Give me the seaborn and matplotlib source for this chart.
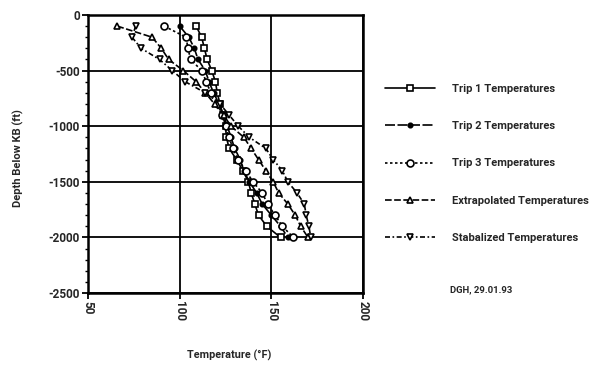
import numpy as np
import pandas as pd
import matplotlib
matplotlib.use("Agg")
import matplotlib.pyplot as plt
import seaborn as sns

# ---- data ----
depth = [-100, -200, -300, -400, -500, -600, -700, -800, -900, -1000,
         -1100, -1200, -1300, -1400, -1500, -1600, -1700, -1800, -1900, -2000]
trip1 = [109, 112, 113.5, 115, 117.5, 119.5, 120.5, 122, 123.5, 125,
         125.5, 127, 131, 134.5, 137.5, 139, 141, 143, 147.5, 155]
trip2 = [100, 105, 108, 110, 114, 116, 118.5, 121.5, 124, 126,
         128, 130, 133, 135, 138, 142, 145, 150, 155, 159]
trip3 = [91.5, 103.5, 104.5, 106, 112, 114.5, 117, 121, 123, 125,
         127, 129, 132, 136, 140, 145, 148, 152, 156, 162]
extrap = [66, 85, 90, 94, 102, 109, 114, 119, 124, 128,
          135, 139, 143, 147, 151, 154, 159, 163, 166, 170]
stab = [76, 74, 79, 89, 96, 103, 114, 122, 127, 132,
        138, 147, 151, 156, 159, 164, 168, 169, 170.5, 171.5]

series_names = ["Trip 1 Temperatures", "Trip 2 Temperatures", "Trip 3 Temperatures",
                "Extrapolated Temperatures", "Stabalized Temperatures"]
x_ticks = [50, 100, 150, 200]
y_ticks = [0, -500, -1000, -1500, -2000, -2500]
x_label = "Temperature (°F)"
y_label = "Depth Below KB (ft)"
note = "DGH, 29.01.93"

sns.set_theme(style="white")
plt.rcParams["font.family"] = ["Roboto", "DejaVu Sans"]
plt.rcParams["font.weight"] = "bold"

fig = plt.figure(figsize=(5.94, 3.75), dpi=100)
ax = fig.add_axes([88/594, 1-293/375, (363-88)/594, (293-15)/375])

styles = [
    dict(marker="s", ms=5, mfc="white", dashes=None),
    dict(marker="o", ms=3.2, mfc="black", dashes=(6, 1.5)),
    dict(marker="o", ms=5, mfc="white", dashes=(1.5, 1.5)),
    dict(marker="^", ms=5, mfc="white", dashes=(4, 1.5)),
    dict(marker="v", ms=5, mfc="white", dashes=(3, 1.5, 1, 1.5)),
]
all_T = [trip1, trip2, trip3, extrap, stab]
for name, T, st in zip(series_names, all_T, styles):
    df = pd.DataFrame({"T": T, "D": depth})
    kw = dict(color="black", lw=1.2, marker=st["marker"], markersize=st["ms"],
              markerfacecolor=st["mfc"], markeredgecolor="black", markeredgewidth=1.2)
    sns.lineplot(data=df, x="T", y="D", sort=False, ax=ax, label=name, **kw)
    l = ax.lines[-1]
    if st["dashes"] is not None:
        l.set_dashes(st["dashes"])

ax.set_xlim(50, 200)
ax.set_ylim(-2500, 0)
ax.set_xticks(x_ticks)
ax.set_yticks(y_ticks)
ax.set_yticks(np.arange(-2500, 1, 100), minor=True)
ax.set_xticklabels([str(v) for v in x_ticks], rotation=270, fontsize=8.5, fontweight="bold")
ax.set_yticklabels([str(v) for v in y_ticks], fontsize=8.5, fontweight="bold")
ax.tick_params(axis="both", which="major", direction="out", length=4, width=1.3,
               color="black", pad=2, left=True, bottom=True)
ax.tick_params(axis="y", which="minor", direction="out", length=2, width=1.0,
               color="black", left=True)
ax.grid(True, which="major", color="black", lw=1.3)
for s in ax.spines.values():
    s.set_color("black")
    s.set_linewidth(1.8)

ax.set_xlabel("")
ax.set_ylabel("")
fig.text(229/594, 1-355/375, x_label, ha="center", va="center", fontsize=7.8, fontweight="bold")
fig.text(18/594, 1-158/375, y_label, ha="center", va="center", rotation=90,
         fontsize=8, fontweight="bold")
fig.text(450/594, 1-290/375, note, ha="left", va="center", fontsize=6.8, fontweight="bold")

if ax.legend_:
    ax.legend_.remove()
handles, labels = ax.get_legend_handles_labels()
fig.legend(handles, labels, loc="upper left", bbox_to_anchor=(385/594, 1-84/375),
           bbox_transform=fig.transFigure, frameon=False, borderpad=0, borderaxespad=0,
           handlelength=4.5, handletextpad=1.5, labelspacing=2.45,
           prop=dict(size=8, weight="bold"))

fig.savefig("out.png", dpi=100, facecolor="white")
